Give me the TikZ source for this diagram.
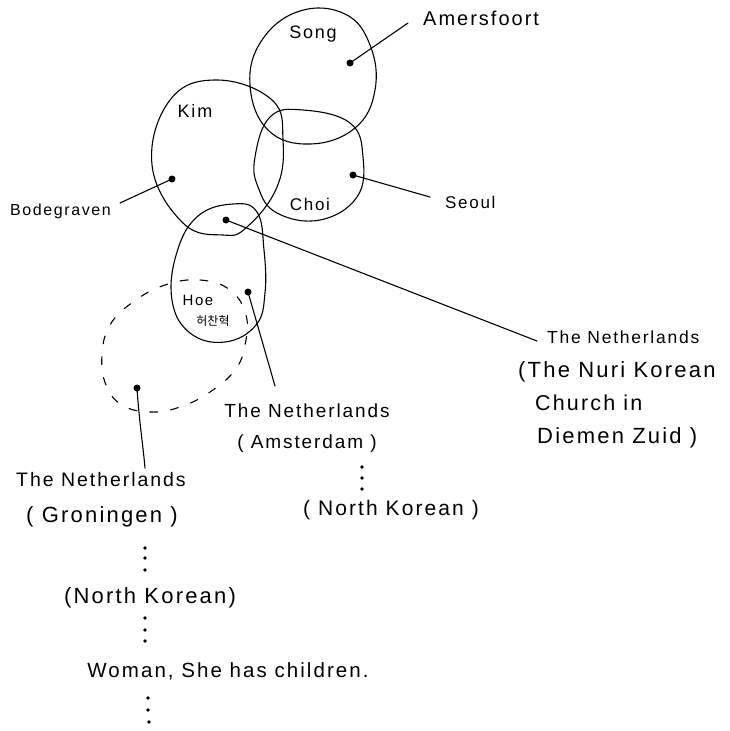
\documentclass[tikz,border=0pt]{standalone}
\usepackage{fontspec}
\setmainfont{Liberation Sans}[LetterSpace=10]
\newfontfamily\kofont{Noto Sans CJK KR}
\newcommand{\fsz}[1]{\fontsize{#1}{#1}\selectfont}
\tikzset{
  pen/.style={line width=1.1pt, line join=round, line cap=round},
  dashpen/.style={line width=1.1pt, line cap=round, dash pattern=on 8pt off 13pt},
  dotnode/.style={circle, fill, inner sep=0pt, minimum size=7pt},
  smalldot/.style={circle, fill, inner sep=0pt, minimum size=3.6pt},
  lbl/.style={inner sep=0pt, font=\fsz{20}},
}
\begin{document}
\begin{tikzpicture}[x=1pt,y=-1pt]
\useasboundingbox[fill=white] (0,0) rectangle (729,731);

% ---- circles ----
\draw[pen] plot[smooth cycle, tension=0.7] coordinates
  {(300,11) (345,14) (370,45) (375,90) (355,128) (310,144) (268,130) (250,85) (262,40)};
\draw[pen] plot[smooth cycle, tension=0.7] coordinates
  {(217,80) (272,100) (283,140) (277,187) (247,227) (223,235) (183,223) (152,165) (170,100)};
\draw[pen] plot[smooth cycle, tension=0.7] coordinates
  {(270,117) (303,110) (350,123) (363,157) (357,197) (320,220) (277,213) (258,187) (255,157)};
\draw[pen] plot[smooth cycle, tension=0.7] coordinates
  {(233,204) (257,212) (264,250) (265,293) (256,325) (225,342) (190,333) (172,300) (177,252) (198,216)};
\draw[dashpen] plot[smooth cycle, tension=0.7] coordinates
  {(165,285) (200,280) (230,290) (246,315) (245,345) (235,370) (210,392) (180,407) (150,412) (122,405) (106,385) (102,355) (110,325) (133,302)};

% ---- names inside circles ----
\node[lbl, anchor=base, font=\fsz{18}] (song) at (313,38) {Song};
\node[lbl, anchor=base, font=\fsz{18}] (kim) at (195,117) {Kim};
\node[lbl, anchor=base, font=\fsz{17}] (choi) at (310,210) {Choi};
\node[lbl, anchor=base, font=\fsz{15}] (hoe) at (198,305) {Hoe};
\node[lbl, anchor=base, font=\kofont\fsz{12}] (hoeko) at (213,325) {허찬혁};

% ---- dots ----
\node[dotnode] (dAm) at (350,63) {};
\node[dotnode] (dSe) at (353,175) {};
\node[dotnode] (dBo) at (172,179) {};
\node[dotnode] (dNu) at (226,220) {};
\node[dotnode] (dAs) at (248,292) {};
\node[dotnode] (dGr) at (137,388) {};

% ---- labels ----
\node[lbl, anchor=base west, font=\fsz{20}] (amers) at (423,25) {Amersfoort};
\node[lbl, anchor=base west, font=\fsz{17}] (seoul) at (445,208) {Seoul};
\node[lbl, anchor=base west, font=\fsz{16}] (bode) at (10,215) {Bodegraven};

\node[lbl, anchor=base west, font=\fsz{17.5}] (nu1) at (547,343) {The Netherlands};
\node[lbl, anchor=base west, font=\fsz{22}] (nu2) at (518,377) {(The Nuri Korean};
\node[lbl, anchor=base west, font=\fsz{21.5}] (nu3) at (535,410) {Church in};
\node[lbl, anchor=base west, font=\fsz{22}] (nu4) at (537,443) {Diemen Zuid )};

\node[lbl, anchor=base, font=\fsz{19}] (as1) at (307,417) {The Netherlands};
\node[lbl, anchor=base, font=\fsz{19}] (as2) at (307,448) {( Amsterdam )};
\node[smalldot] (asd1) at (362,467) {};
\node[smalldot] (asd2) at (362,478) {};
\node[smalldot] (asd3) at (362,489) {};
\node[lbl, anchor=base, font=\fsz{21}] (as3) at (391,515) {( North Korean )};

\node[lbl, anchor=base, font=\fsz{19.5}] (gr1) at (101,486) {The Netherlands};
\node[lbl, anchor=base, font=\fsz{22}] (gr2) at (102,522) {( Groningen )};
\node[smalldot] (grd1) at (145,548) {};
\node[smalldot] (grd2) at (145,558) {};
\node[smalldot] (grd3) at (145,570) {};
\node[lbl, anchor=base, font=\fsz{22}] (gr3) at (150,603) {(North Korean)};
\node[smalldot] (grd4) at (145,618) {};
\node[smalldot] (grd5) at (145,630) {};
\node[smalldot] (grd6) at (145,641) {};
\node[lbl, anchor=base, font=\fsz{20.5}] (gr4) at (228,677) {Woman, She has children.};
\node[smalldot] (grd7) at (148,698) {};
\node[smalldot] (grd8) at (148,710) {};
\node[smalldot] (grd9) at (149,722) {};

% ---- connector ends ----
\coordinate (eAm) at (408,23);
\coordinate (eSe) at (430,197);
\coordinate (eBo) at (120,203);
\coordinate (eNu) at (537,341);
\coordinate (eAs) at (275,386);
\coordinate (eGr) at (145,468);

% ---- connectors ----
\draw[pen] (dAm.center) -- (eAm);
\draw[pen] (dSe.center) -- (eSe);
\draw[pen] (dBo.center) -- (eBo);
\draw[pen] (dNu.center) -- (eNu);
\draw[pen] (dAs.center) -- (eAs);
\draw[pen] (dGr.center) .. controls (139,420) and (143,445) .. (eGr);
\end{tikzpicture}
\end{document}
